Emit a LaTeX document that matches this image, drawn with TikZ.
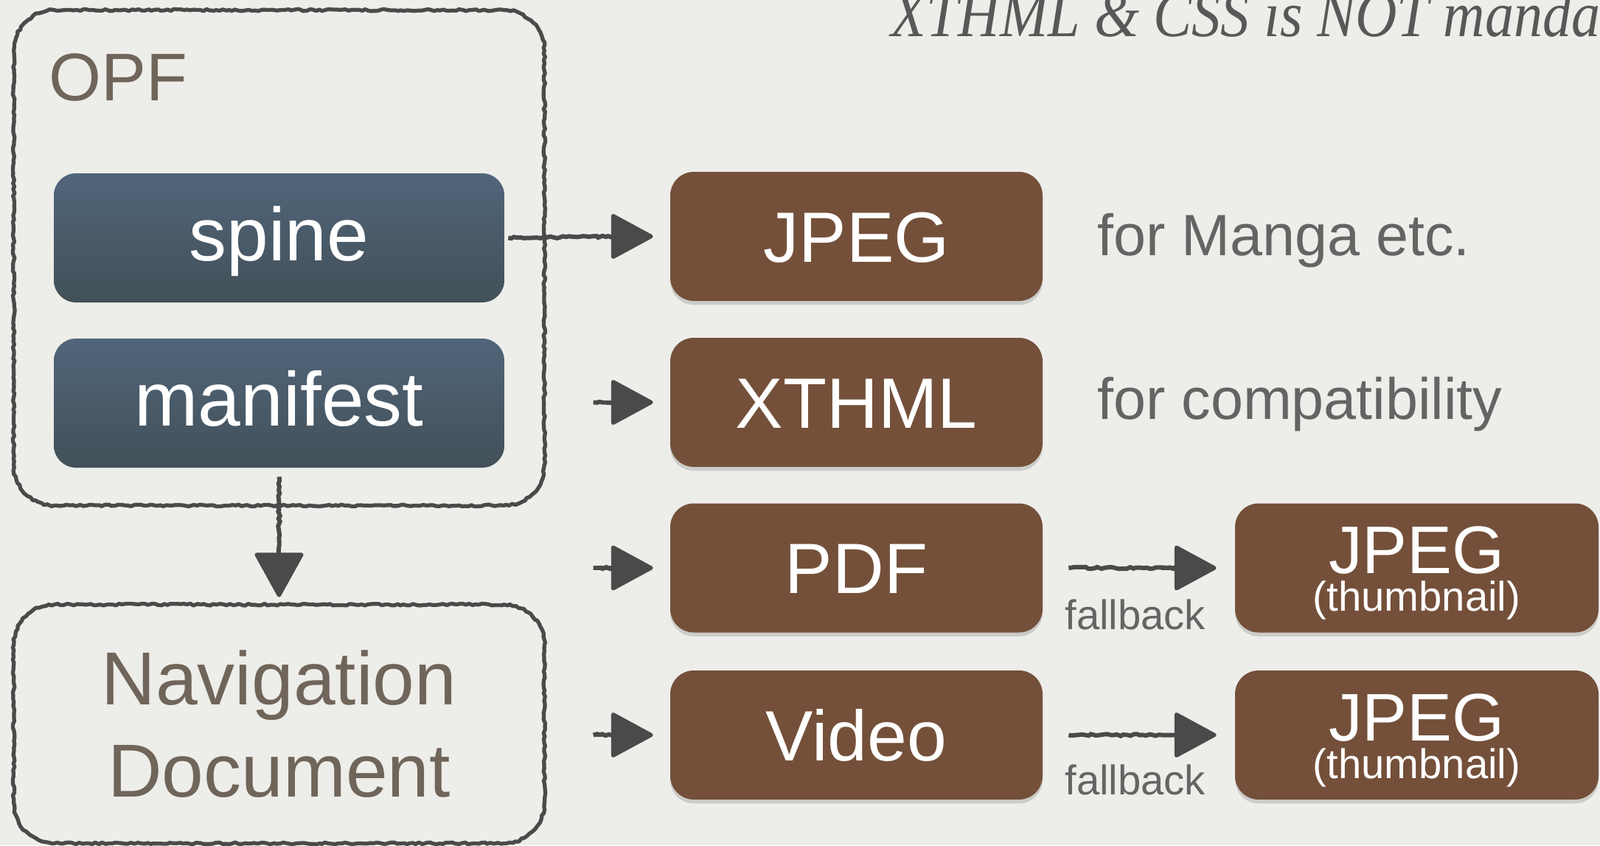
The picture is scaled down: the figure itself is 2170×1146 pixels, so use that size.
\documentclass[tikz,border=0pt]{standalone}
\usepackage{fontspec}
\setmainfont{Liberation Sans}
\newfontfamily\titlefont{Liberation Serif}[FakeStretch=0.89]
\usetikzlibrary{decorations.pathmorphing,arrows.meta,shadows,calc}
\definecolor{bg}{RGB}{237,237,233}
\definecolor{sketch}{RGB}{74,74,74}
\definecolor{boxbrown}{RGB}{116,80,58}
\definecolor{bluetop}{RGB}{81,101,122}
\definecolor{bluebot}{RGB}{66,80,88}
\definecolor{labelbrown}{RGB}{112,101,90}
\definecolor{notegray}{RGB}{100,100,100}
\definecolor{titlegray}{RGB}{88,88,88}
\def\PX{0.02cm}
\newcommand\roughframe[2]{%
  \draw[rough] ([xshift=#2*\PX]#1.north west) -- ([xshift=-#2*\PX]#1.north east)
    arc[start angle=90,end angle=0,radius=#2*\PX]
    -- ([yshift=#2*\PX]#1.south east)
    arc[start angle=0,end angle=-90,radius=#2*\PX]
    -- ([xshift=#2*\PX]#1.south west)
    arc[start angle=-90,end angle=-180,radius=#2*\PX]
    -- ([yshift=-#2*\PX]#1.north west)
    arc[start angle=180,end angle=90,radius=#2*\PX] -- cycle;}
\tikzset{
  bluebox/.style={rounded corners=30*\PX, top color=bluetop, bottom color=bluebot, draw=none,
    minimum width=611*\PX, minimum height=175*\PX, inner sep=0pt, text=white,
    font=\fontsize{58}{60}\selectfont, text height=34.8pt, text depth=0pt},
  brownbox/.style={rounded corners=32*\PX, fill=boxbrown, draw=none,
    minimum width=505*\PX, minimum height=175*\PX, inner sep=0pt, text=white,
    font=\fontsize{55}{60}\selectfont, text height=39.4pt, text depth=0pt,
    drop shadow={shadow xshift=0pt, shadow yshift=-3pt, opacity=0.3}},
  thumbbox/.style={brownbox, minimum width=493*\PX},
  frame/.style={minimum width=719*\PX, inner sep=0pt},
  rough/.style={draw=sketch, line width=3pt, line join=round, decorate,
    decoration={random steps, segment length=2.5pt, amplitude=0.75pt}},
  shaft/.style={draw=sketch, line width=3.4pt, decorate,
    decoration={random steps, segment length=2.5pt, amplitude=0.75pt}},
  headtip/.style={draw=sketch, line width=3pt, -{Triangle[length=34pt,width=36pt,round]}},
  note/.style={text=notegray, font=\fontsize{45}{50}\selectfont, anchor=base west, inner sep=0pt},
  fb/.style={text=notegray, font=\fontsize{32}{36}\selectfont, anchor=base west, inner sep=0pt},
  whitetxt/.style={text=white, anchor=base, inner sep=0pt},
}
\begin{document}
\begin{tikzpicture}[x=\PX, y=-\PX]
\fill[bg] (0,0) rectangle (2170,1146);
\useasboundingbox (0,0) rectangle (2170,1146);

% title
\node[anchor=base west, inner sep=0pt, text=titlegray,
  font=\titlefont\itshape\fontsize{50}{52}\selectfont] (title) at (1208,50) {XTHML \& CSS is NOT manda};

% OPF frame
\node[frame, minimum height=671*\PX] (opf) at (378.5,349.5) {};
\roughframe{opf}{55}
\node[anchor=base west, inner sep=0pt, text=labelbrown, font=\fontsize{52}{60}\selectfont] (opflabel) at (66,136) {OPF};
\node[bluebox] (spine) at (378.5,322.5) {spine};
\node[bluebox, font=\fontsize{59}{60}\selectfont] (manifest) at (378.5,546.5) {manifest};

% Navigation frame
\node[frame, minimum height=323*\PX, text=labelbrown, align=center,
  font=\fontsize{58}{71}\selectfont] (nav) at (378.5,981.5) {Navigation\\Document};
\roughframe{nav}{55}

% brown boxes
\node[brownbox] (jpeg) at (1161.5,320.5) {JPEG};
\node[brownbox] (xthml) at (1161.5,545.5) {XTHML};
\node[brownbox] (pdf) at (1161.5,770) {PDF};
\node[brownbox] (video) at (1161.5,996.5) {Video};
\node[thumbbox] (thumb1) at (1921.5,770) {};
\node[thumbbox] (thumb2) at (1921.5,996.5) {};
\node[whitetxt, font=\fontsize{52}{56}\selectfont] (t1a) at (1921.5,777) {JPEG};
\node[whitetxt, font=\fontsize{32}{36}\selectfont] (t1b) at (1921.5,828) {(thumbnail)};
\node[whitetxt, font=\fontsize{52}{56}\selectfont] (t2a) at (1921.5,1004) {JPEG};
\node[whitetxt, font=\fontsize{32}{36}\selectfont] (t2b) at (1921.5,1055) {(thumbnail)};

% notes
\node[note] (n1) at (1488,346) {for Manga etc.};
\node[note] (n2) at (1488,568) {for compatibility};
\node[fb] (fb1) at (1444,853) {fallback};
\node[fb] (fb2) at (1444,1077) {fallback};

% arrows
\coordinate (s1) at ($(spine.east)+(5,0)$);
\coordinate (e1) at ($(jpeg.west)+(-23,0)$);
\draw[shaft] (s1) -- ($(e1)+(-25,0)$);
\draw[headtip] ($(e1)+(-75,0)$) -- (e1);

\coordinate (s2) at ($(xthml.west)+(-104,0)$);
\coordinate (e2) at ($(xthml.west)+(-23,0)$);
\draw[shaft] (s2) -- ($(e2)+(-30,0)$);
\draw[headtip] (s2) -- (e2);

\coordinate (s3) at ($(pdf.west)+(-104,0)$);
\coordinate (e3) at ($(pdf.west)+(-23,0)$);
\draw[shaft] (s3) -- ($(e3)+(-30,0)$);
\draw[headtip] (s3) -- (e3);

\coordinate (s4) at ($(video.west)+(-104,0)$);
\coordinate (e4) at ($(video.west)+(-23,0)$);
\draw[shaft] (s4) -- ($(e4)+(-30,0)$);
\draw[headtip] (s4) -- (e4);

\coordinate (s5) at ($(manifest.south)+(0,12)$);
\coordinate (e5) at ($(nav.north)+(0,-10)$);
\draw[shaft] (s5) -- ($(e5)+(0,-25)$);
\draw[headtip, -{Triangle[length=36pt,width=39pt,round]}] ($(e5)+(0,-80)$) -- (e5);

\coordinate (s6) at ($(pdf.east)+(35,0)$);
\coordinate (e6) at ($(thumb1.west)+(-25,0)$);
\draw[shaft] (s6) -- ($(e6)+(-25,0)$);
\draw[headtip] ($(e6)+(-75,0)$) -- (e6);

\coordinate (s7) at ($(video.east)+(35,0)$);
\coordinate (e7) at ($(thumb2.west)+(-25,0)$);
\draw[shaft] (s7) -- ($(e7)+(-25,0)$);
\draw[headtip] ($(e7)+(-75,0)$) -- (e7);
\end{tikzpicture}
\end{document}
